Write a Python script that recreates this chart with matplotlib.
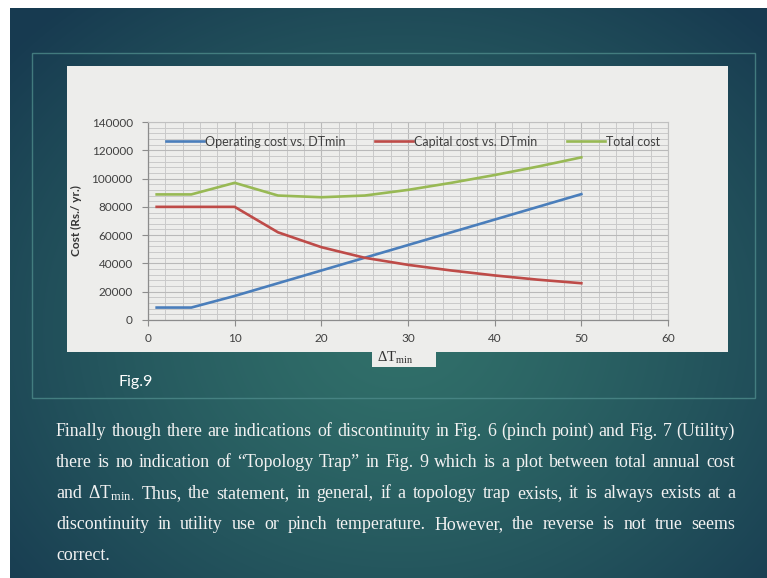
import numpy as np
import matplotlib
matplotlib.use("Agg")
import matplotlib.pyplot as plt
from matplotlib.patches import Rectangle
from matplotlib.ticker import MultipleLocator

# ---------------- data ----------------
dt_min = [1, 5, 10, 15, 20, 25, 30, 35, 40, 45, 50]
operating_cost = [8800, 8800, 17000, 26000, 35000, 44000, 53000, 62000, 71000, 80000, 89000]
capital_cost = [80000, 80000, 80000, 62000, 51500, 44000, 39000, 35000, 31500, 28500, 26000]
total_cost = [88800, 88800, 97000, 88000, 86800, 88000, 92000, 97000, 102500, 108500, 115000]
series_names = ["Operating cost vs. DTmin", "Capital cost vs. DTmin", "Total cost"]
x_ticks = [0, 10, 20, 30, 40, 50, 60]
y_ticks = [0, 20000, 40000, 60000, 80000, 100000, 120000, 140000]
y_label = "Cost (Rs./ yr.)"
fig_label = "Fig.9"
paragraph = [
    "Finally though there are indications of discontinuity in Fig. 6 (pinch point) and Fig. 7 (Utility)",
    "there is no indication of \u201cTopology Trap\u201d in Fig. 9 which is a plot between total annual cost",
    "and \u0394T$_{\\mathrm{min.}}$ Thus, the statement, in general, if a topology trap exists, it is always exists at a",
    "discontinuity in utility use or pinch temperature. However, the reverse is not true seems",
    "correct.",
]

W, H = 767, 578
plt.rcParams['mathtext.fontset'] = 'custom'
plt.rcParams['mathtext.rm'] = 'Liberation Serif'
plt.rcParams['mathtext.it'] = 'Liberation Serif:italic'

fig = plt.figure(figsize=(W / 100, H / 100), dpi=100)
fig.patch.set_facecolor('white')

bg = fig.add_axes([0, 0, 1, 1])
bg.axis('off')

# slide gradient background
yy, xx = np.mgrid[8:H, 10:W]
r = np.sqrt(((xx - 400) / 520.0) ** 2 + ((yy - 330) / 430.0) ** 2)
t = np.clip(r, 0, 1) ** 1.3
c_in = np.array([0x31, 0x70, 0x6a]) / 255.0
c_out = np.array([0x17, 0x3a, 0x50]) / 255.0
img = c_in[None, None, :] * (1 - t[..., None]) + c_out[None, None, :] * t[..., None]
bg.imshow(img, extent=(10, W, H, 8), aspect='auto', interpolation='bilinear', zorder=0)
bg.set_xlim(0, W)
bg.set_ylim(H, 0)

# thin frame
bg.add_patch(Rectangle((32, 53), 755 - 32, 398 - 53, fill=False,
                       edgecolor='#4d8a8a', lw=1.0, alpha=0.8, zorder=1))
# chart panel
panel_col = '#ededeb'
bg.add_patch(Rectangle((67, 66), 728 - 67, 352 - 66, facecolor=panel_col,
                       edgecolor='none', zorder=2))
# delta T box below panel
bg.add_patch(Rectangle((372, 350), 436 - 372, 367 - 350, facecolor=panel_col,
                       edgecolor='none', zorder=2))
bg.text(377, 362, "\u0394T$_{\\mathrm{min}}$", fontsize=10.5, color='#333333',
        family='Liberation Serif', va='baseline', ha='left', zorder=3)

# Fig.9 label
bg.text(118, 382, fig_label, fontsize=11.5, color='white', family='Lato',
        va='center', ha='left', zorder=3)

# ---------------- chart ----------------
ax_l, ax_r, ax_t, ax_b = 148, 668, 122, 320
ax = fig.add_axes([ax_l / W, 1 - ax_b / H, (ax_r - ax_l) / W, (ax_b - ax_t) / H])
ax.set_facecolor(panel_col)
colors = ['#4a7ebb', '#be4b48', '#98b954']
for ys, name, c in zip([operating_cost, capital_cost, total_cost], series_names, colors):
    ax.plot(dt_min, ys, color=c, lw=1.9, label=name, zorder=3, solid_joinstyle='round')

ax.set_xlim(x_ticks[0], x_ticks[-1])
ax.set_ylim(y_ticks[0], y_ticks[-1])
ax.set_xticks(x_ticks)
ax.set_yticks(y_ticks)
ax.xaxis.set_minor_locator(MultipleLocator(2))
ax.yaxis.set_minor_locator(MultipleLocator(4000))
ax.grid(which='major', color='#b9b9b9', lw=0.8, zorder=0)
ax.grid(which='minor', color='#c9c9c9', lw=0.7, zorder=0)
ax.set_axisbelow(True)
for s in ['top', 'right']:
    ax.spines[s].set_color('#c0c0c0')
    ax.spines[s].set_linewidth(0.8)
for s in ['left', 'bottom']:
    ax.spines[s].set_color('#8c8c8c')
    ax.spines[s].set_linewidth(0.9)
ax.tick_params(which='major', length=4, width=0.8, color='#8c8c8c',
               labelsize=8.5, labelcolor='#404040')
ax.tick_params(axis='y', which='major', pad=7)
ax.tick_params(axis='x', which='major', pad=5)
ax.tick_params(which='minor', length=0)
ax.set_yticklabels([str(v) for v in y_ticks])
for lab in ax.get_xticklabels() + ax.get_yticklabels():
    lab.set_family('Lato')
ax.set_ylabel(y_label, fontsize=8.5, fontweight='bold', family='Lato', color='#333333',
              labelpad=7)
leg = ax.legend(loc='center', bbox_to_anchor=(0.51, 0.9), ncol=3, frameon=False,
                handlelength=3.0, handletextpad=0.1, columnspacing=2.4,
                prop={'family': 'Lato', 'size': 9})
for txt in leg.get_texts():
    txt.set_color('#404040')

# ---------------- paragraph ----------------
renderer = fig.canvas.get_renderer()
left, right = 56, 735
probe = bg.text(0, 0, paragraph[0], fontsize=12, family='Liberation Serif')
w12 = probe.get_window_extent(renderer).width
probe.remove()
fs = 12 * (right - left) / w12 * 0.99
baselines = [436, 467, 498, 529, 560]
for i, (line, yb) in enumerate(zip(paragraph, baselines)):
    words = line.split(' ')
    objs = [bg.text(0, yb, wd, fontsize=fs, family='Liberation Serif', color='#f2f2f2',
                    va='baseline', ha='left', zorder=3) for wd in words]
    widths = [o.get_window_extent(renderer).width for o in objs]
    justify = i < len(paragraph) - 1
    if justify and len(words) > 1:
        gap = (right - left - sum(widths)) / (len(words) - 1)
    else:
        gap = fs * 100 / 72 * 0.25
    x = left
    for o, wdt in zip(objs, widths):
        o.set_x(x)
        x += wdt + gap

fig.savefig('out.png', dpi=100, facecolor=fig.get_facecolor())
